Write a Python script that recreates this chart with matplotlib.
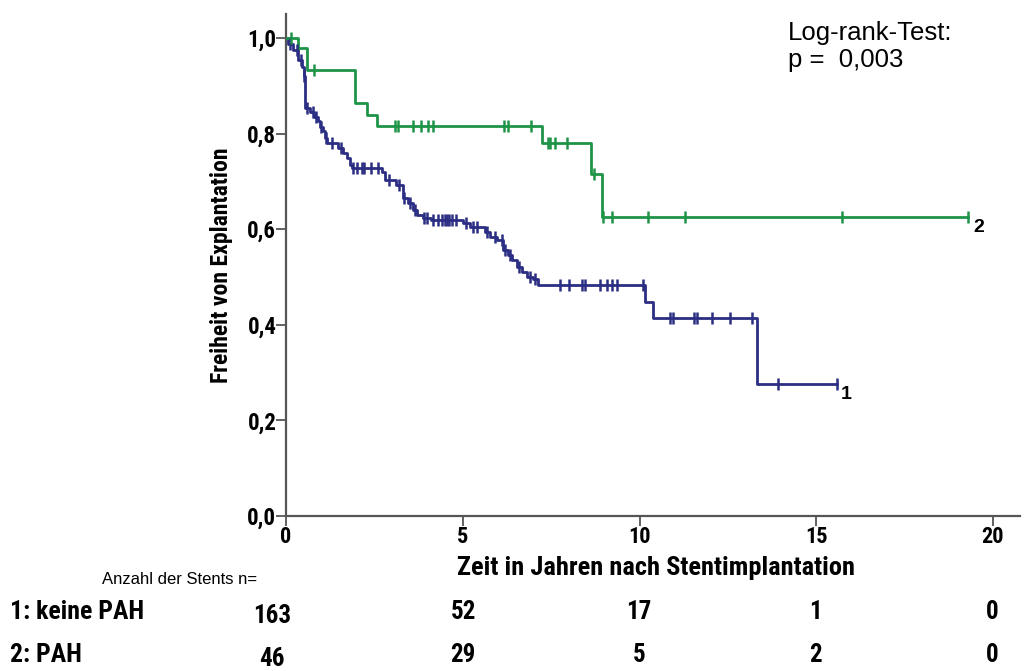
import numpy as np
import matplotlib
matplotlib.use("Agg")
import matplotlib.pyplot as plt
from matplotlib import font_manager

# ---------------- data ----------------
# Group 1: keine PAH (step times, survival after step)
t1 = [0.0, 0.05, 0.2, 0.35, 0.45, 0.5, 0.55, 0.68, 0.78, 0.9, 0.96, 1.05, 1.1, 1.16,
      1.47, 1.61, 1.72, 1.81, 1.87, 2.72, 2.8, 3.1, 3.3, 3.45, 3.59, 3.7, 3.87, 4.1,
      5.0, 5.2, 5.63, 5.77, 5.97, 6.14, 6.28, 6.4, 6.53, 6.68, 6.82, 7.0, 7.13,
      10.16, 10.38, 13.33]
s1 = [1.0, 0.988, 0.975, 0.954, 0.94, 0.92, 0.854, 0.845, 0.835, 0.826, 0.814, 0.805, 0.79, 0.78,
      0.77, 0.76, 0.749, 0.734, 0.727, 0.72, 0.703, 0.692, 0.665, 0.655, 0.64, 0.63, 0.623, 0.619,
      0.613, 0.605, 0.594, 0.584, 0.577, 0.556, 0.545, 0.536, 0.52, 0.51, 0.50, 0.495, 0.483,
      0.448, 0.414, 0.276]
end1 = 15.6
cens1 = [0.1, 0.3, 0.42, 0.52, 0.58, 0.75, 0.85, 1.0, 1.12, 1.3, 1.55, 1.9, 2.0, 2.15, 2.2,
         2.4, 2.6, 2.9, 3.2, 3.35, 3.5, 3.65, 3.9, 4.0, 4.15, 4.3, 4.4, 4.5, 4.55, 4.6, 4.7,
         4.8, 5.1, 5.3, 5.4, 5.7, 5.9, 6.1, 6.2, 6.35, 6.6, 6.9, 7.05,
         7.75, 8.0, 8.37, 8.46, 8.88, 9.08, 9.22, 9.36, 10.1,
         10.86, 10.95, 11.54, 11.63, 12.05, 12.56, 13.18, 13.92, 15.59]

# Group 2: PAH
t2 = [0.0, 0.35, 0.6, 1.95, 2.3, 2.57, 7.24, 8.63, 8.94]
s2 = [1.0, 0.979, 0.933, 0.864, 0.839, 0.816, 0.780, 0.715, 0.626]
end2 = 19.3
cens2 = [0.15, 0.8, 3.08, 3.17, 3.59, 3.82, 4.02, 4.16, 6.17, 6.28, 6.93,
         7.4, 7.47, 7.6, 7.95, 8.7, 8.97, 9.22, 10.24, 11.29, 15.73, 19.3]

xticks = [0, 5, 10, 15, 20]
yticks = [0.0, 0.2, 0.4, 0.6, 0.8, 1.0]
ytick_labels = ["0,0", "0,2", "0,4", "0,6", "0,8", "1,0"]

risk_labels = ["1: keine PAH", "2: PAH"]
risk_counts1 = [163, 52, 17, 1, 0]
risk_counts2 = [46, 29, 5, 2, 0]

# ---------------- style ----------------
avail = {f.name for f in font_manager.fontManager.ttflist}
narrow = next((n for n in ["Roboto Condensed", "Archivo Narrow", "PT Sans Narrow", "Liberation Sans"] if n in avail), "DejaVu Sans")
regular = "Liberation Sans"

c1 = "#2B2E83"
c2 = "#1E9448"

fig = plt.figure(figsize=(10.26, 6.71), dpi=100)
ax = fig.add_axes([286 / 1026, 1 - 516 / 671, (1020 - 286) / 1026, (516 - 14) / 671])

def draw(t, s, end, cens, color):
    tt = list(t) + [end]
    ss = list(s) + [s[-1]]
    ax.step(tt, ss, where="post", color=color, lw=2.0, zorder=3)
    tarr = np.array(t)
    idx = np.searchsorted(tarr, np.array(cens), side="right") - 1
    yc = np.array(s)[idx]
    ax.plot(cens, yc, ls="none", marker="|", ms=8, mew=1.8, color=color, zorder=4)

draw(t1, s1, end1, cens1, c1)
draw(t2, s2, end2, cens2, c2)

ax.set_xlim(0, (1020 - 286) / 35.35)
ax.set_ylim(0, 1.05)
for sp in ["top", "right"]:
    ax.spines[sp].set_visible(False)
for sp in ["left", "bottom"]:
    ax.spines[sp].set_color("#555555")
    ax.spines[sp].set_linewidth(1.6)

ax.set_xticks(xticks)
ax.set_xticklabels([str(x) for x in xticks], fontfamily=narrow, fontweight="bold", fontsize=16)
ax.set_yticks(yticks)
ax.set_yticklabels(ytick_labels, fontfamily=narrow, fontweight="bold", fontsize=16.5)
ax.tick_params(axis="both", direction="out", length=7, width=1.3, color="#555555", pad=0)

ax.set_ylabel("Freiheit von Explantation", fontfamily=narrow, fontweight="bold", fontsize=17, labelpad=10)
fig.text(656 / 1026, 1 - 568 / 671, "Zeit in Jahren nach Stentimplantation", ha="center", va="center",
         fontfamily=narrow, fontweight="bold", fontsize=19)

# curve labels
ax.text(end1 + 0.1, s1[-1] - 0.005, "1", ha="left", va="top", fontfamily=regular, fontweight="bold", fontsize=14)
ax.text(end2 + 0.15, s2[-1] - 0.005, "2", ha="left", va="top", fontfamily=regular, fontweight="bold", fontsize=14)

fig.text(788 / 1026, 1 - 33 / 671, "Log-rank-Test:", ha="left", va="center", fontfamily=regular, fontsize=18.5)
fig.text(788 / 1026, 1 - 60 / 671, "p =  0,003", ha="left", va="center", fontfamily=regular, fontsize=18.5)

# risk table
fig.text(102 / 1026, 1 - 580 / 671, "Anzahl der Stents n=", ha="left", va="center", fontfamily=regular, fontsize=12)
row_y = [612, 655]
col_x = [272, 463, 639, 815, 992]
for r, (lab, counts) in enumerate(zip(risk_labels, [risk_counts1, risk_counts2])):
    y = row_y[r]
    fig.text(10 / 1026, 1 - y / 671, lab, ha="left", va="center", fontfamily=narrow, fontweight="bold", fontsize=18.5)
    for j, (x, v) in enumerate(zip(col_x, counts)):
        dy = 4 if j == 0 else 0
        fig.text(x / 1026, 1 - (y + dy) / 671, str(v), ha="center", va="center",
                 fontfamily=narrow, fontweight="bold", fontsize=18)

fig.savefig("out.png", dpi=100)
